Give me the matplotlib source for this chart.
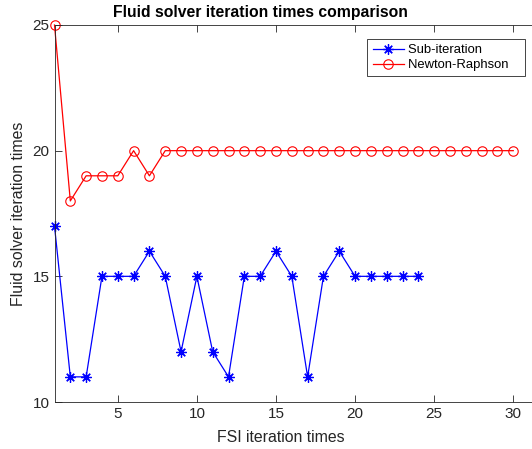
import numpy as np
import matplotlib
matplotlib.use('Agg')
import matplotlib.pyplot as plt

plt.rcParams['font.family'] = ['Liberation Sans', 'DejaVu Sans']

sub_x = list(range(1, 25))
sub_iter = [17, 11, 11, 15, 15, 15, 16, 15, 12, 15, 12, 11,
            15, 15, 16, 15, 11, 15, 16, 15, 15, 15, 15, 15]
nr_x = list(range(1, 31))
newton = [25, 18, 19, 19, 19, 20, 19] + [20] * 23

xticks = [5, 10, 15, 20, 25, 30]
yticks = [10, 15, 20, 25]

fig = plt.figure(figsize=(5.32, 4.49), dpi=100)
W, H = 532, 449
ax = fig.add_axes([54.5 / W, 1 - 402 / H, (531.5 - 54.5) / W, (402 - 25) / H])

# matlab style asterisk marker
ax.plot(sub_x, sub_iter, color='blue', marker=(8, 2, 0), markersize=7.5, linewidth=0.9,
        markeredgewidth=0.9, label='Sub-iteration', clip_on=False)
ax.plot(nr_x, newton, color='red', marker='o', markersize=6.8, linewidth=0.9,
        markerfacecolor='none', markeredgewidth=0.8, label='Newton-Raphson', clip_on=False)

ax.set_xlim(1, 1 + (531.5 - 54.5) / 15.82)
ax.set_ylim(10, 25)
ax.set_xticks(xticks)
ax.set_yticks(yticks)
ax.tick_params(direction='in', top=True, right=False, labelsize=11,
               colors='#262626', length=5, width=0.6)
for s in ax.spines.values():
    s.set_color('#262626')
    s.set_linewidth(0.6)

fig.text(281 / W, 1 - 437 / H, 'FSI iteration times', fontsize=11.4, color='#262626',
         ha='center', va='center')
ax.set_ylabel('Fluid solver iteration times', fontsize=11.4, color='#262626', labelpad=5)
fig.text(260 / W, 1 - 12 / H, 'Fluid solver iteration times comparison', fontsize=11.3,
         fontweight='bold', ha='center', va='center')

handles, labels = ax.get_legend_handles_labels()
# matlab leaves extra room on the right of the legend text
leg = ax.legend(handles, [l + '   ' for l in labels], loc='upper right',
                bbox_to_anchor=((525 - 54.5) / 477, (402 - 39) / 377),
                fontsize=9.4, fancybox=False, framealpha=1, borderpad=0.4,
                handlelength=2.4, handletextpad=0.35, labelspacing=0.2, borderaxespad=0)
leg.get_frame().set_edgecolor('#262626')
leg.get_frame().set_linewidth(0.6)

fig.savefig('out.png', dpi=100)
